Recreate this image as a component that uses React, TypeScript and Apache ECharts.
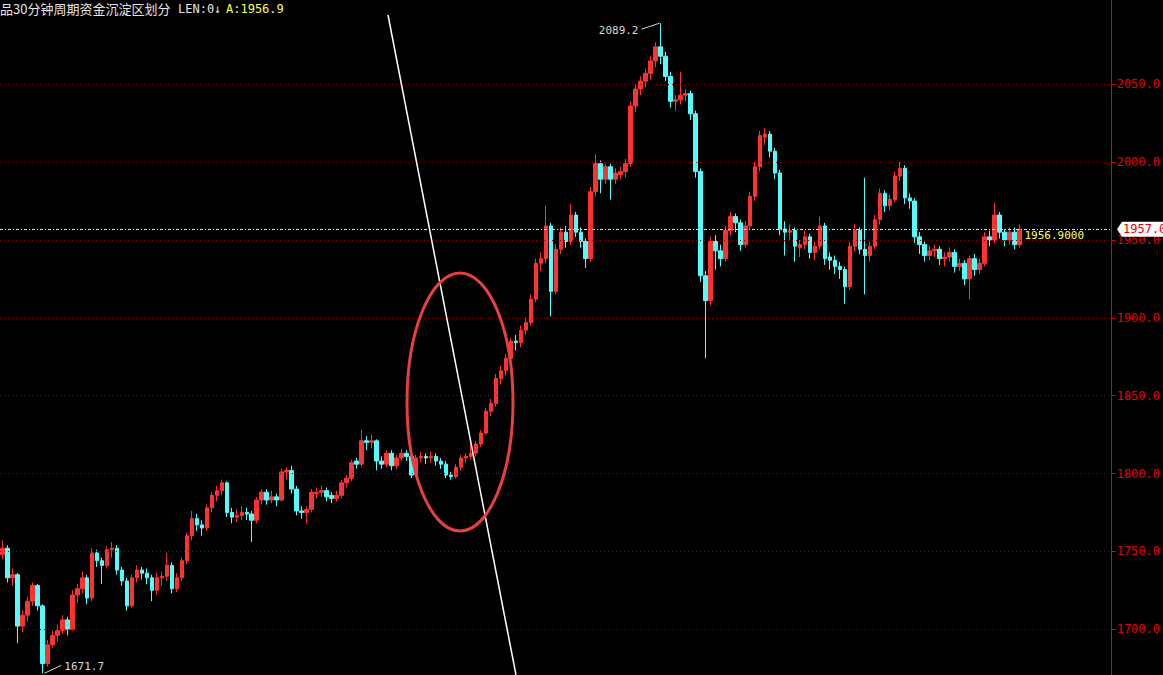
import React, { useEffect, useRef } from "react";
import * as echarts from "echarts";

// ---- data ----
const TOTAL_SLOTS = 223;
const categories: string[] = Array.from({ length: TOTAL_SLOTS }, (_, i) => `K${i + 1}`);

// [open, close, low, high]
const ohlc: number[][] = [
  [1748,1752,1745,1757],[1752,1733,1730,1754],[1733,1735,1728,1739],[1735,1702,1691,1736],
  [1702,1709,1698,1712],[1709,1718,1705,1721],[1718,1728,1715,1730],[1728,1715,1712,1729],
  [1715,1678,1671.7,1716],[1678,1690,1676,1693],[1690,1696,1688,1699],[1696,1699,1692,1703],
  [1699,1706,1697,1709],[1706,1700,1696,1708],[1700,1722,1699,1725],[1722,1726,1717,1729],
  [1726,1733,1723,1737],[1733,1720,1716,1735],[1720,1749,1718,1752],[1749,1744,1740,1751],
  [1744,1741,1729,1746],[1741,1751,1739,1753],[1751,1752,1746,1756],[1752,1738,1735,1754],
  [1738,1731,1728,1740],[1731,1715,1712,1733],[1715,1733,1714,1735],[1733,1738,1730,1741],
  [1738,1736,1732,1740],[1736,1733,1729,1739],[1733,1725,1718,1735],[1725,1733,1722,1736],
  [1733,1734,1728,1737],[1734,1741,1731,1749],[1741,1726,1723,1743],[1726,1733,1724,1736],
  [1733,1744,1731,1746],[1744,1760,1742,1762],[1760,1771,1757,1776],[1771,1767,1763,1774],
  [1767,1765,1760,1770],[1765,1778,1763,1780],[1778,1786,1775,1788],[1786,1789,1782,1792],
  [1789,1794,1786,1796],[1794,1775,1772,1795],[1775,1772,1768,1778],[1772,1773,1769,1777],
  [1773,1775,1770,1779],[1775,1774,1770,1778],[1774,1770,1756,1776],[1770,1783,1768,1785],
  [1783,1788,1780,1790],[1788,1783,1780,1790],[1783,1785,1781,1789],[1785,1783,1779,1787],
  [1783,1801,1782,1803],[1801,1802,1796,1804],[1802,1790,1787,1805],[1790,1776,1773,1792],
  [1776,1775,1771,1779],[1775,1777,1768,1779],[1777,1788,1775,1790],[1787,1788,1784,1791],
  [1788,1789,1785,1792],[1789,1785,1782,1791],[1786,1784,1781,1788],[1784,1786,1782,1789],
  [1786,1794,1784,1796],[1794,1797,1791,1799],[1797,1807,1795,1809],[1808,1806,1803,1810],
  [1806,1821,1804,1828],[1821,1820,1815,1824],[1820,1821,1816,1825],[1821,1808,1802,1822],
  [1808,1806,1803,1811],[1806,1813,1804,1815],[1813,1805,1802,1815],[1805,1810,1803,1812],
  [1810,1813,1808,1816],[1813,1811,1808,1815],[1811,1799,1797,1812],[1799,1810,1798,1812],
  [1810,1811,1807,1814],[1811,1810,1806,1813],[1810,1811,1807,1814],[1811,1808,1805,1813],
  [1808,1806,1803,1810],[1806,1799,1797,1808],[1799,1798,1796,1801],[1798,1804,1797,1806],
  [1804,1810,1802,1812],[1810,1811,1807,1813],[1811,1813,1809,1820],[1813,1819,1811,1821],
  [1819,1826,1817,1828],[1826,1840,1825,1842],[1840,1845,1837,1848],[1845,1861,1843,1864],
  [1861,1866,1857,1869],[1866,1874,1863,1877],[1874,1885,1871,1887],[1885,1884,1879,1889],
  [1884,1892,1881,1895],[1892,1897,1889,1900],[1897,1912,1895,1915],[1912,1935,1910,1938],
  [1935,1938,1930,1942],[1938,1959,1935,1972],[1959,1917,1901,1961],[1917,1944,1915,1947],
  [1944,1955,1941,1958],[1955,1949,1945,1959],[1949,1966,1947,1973],[1966,1955,1952,1968],
  [1955,1949,1945,1958],[1949,1938,1932,1951],[1938,1981,1936,1984],[1981,1999,1978,2005],
  [1999,1989,1980,2001],[1989,1997,1986,1999],[1997,1989,1976,1999],[1989,1993,1986,1996],
  [1992,1994,1989,1997],[1994,1999,1990,2002],[1999,2036,1997,2039],[2036,2047,2032,2050],
  [2047,2052,2043,2055],[2052,2057,2048,2060],[2057,2065,2053,2068],[2065,2074,2061,2077],
  [2074,2068,2063,2089.2],[2068,2055,2052,2071],[2055,2039,2035,2058],[2039,2040,2033,2043],
  [2040,2043,2037,2058],[2043,2044,2039,2047],[2044,2031,2027,2046],[2031,1994,1990,2033],
  [1994,1927,1923,1996],[1927,1911,1874,1930],[1911,1949,1908,1952],[1949,1943,1931,1953],
  [1943,1938,1933,1947],[1938,1956,1936,1959],[1956,1965,1953,1968],[1965,1961,1955,1967],
  [1961,1947,1943,1963],[1947,1959,1945,1962],[1959,1978,1957,1981],[1978,1997,1975,2000],
  [1997,2017,1994,2020],[2016,2018,2011,2022],[2018,2007,2003,2020],[2007,1993,1989,2009],
  [1993,1957,1953,1995],[1957,1955,1940,1962],[1955,1956,1950,1960],[1956,1946,1936,1958],
  [1945,1947,1939,1950],[1947,1952,1944,1956],[1952,1942,1938,1954],[1942,1946,1937,1949],
  [1946,1959,1944,1965],[1959,1938,1934,1961],[1939,1937,1931,1942],[1937,1933,1928,1940],
  [1933,1931,1925,1936],[1931,1920,1909,1933],[1920,1946,1918,1949],[1946,1956,1943,1960],
  [1956,1944,1941,1958],[1944,1940,1915,1990],[1940,1946,1936,1949],[1946,1963,1944,1966],
  [1963,1980,1960,1983],[1980,1972,1968,1982],[1972,1976,1969,1979],[1976,1991,1974,1994],
  [1991,1996,1988,2000],[1996,1977,1973,1998],[1977,1975,1970,1980],[1975,1952,1948,1977],
  [1952,1947,1941,1955],[1947,1940,1936,1949],[1940,1943,1937,1946],[1943,1944,1939,1947],
  [1944,1938,1934,1946],[1938,1939,1933,1942],[1939,1942,1936,1945],[1942,1933,1929,1944],
  [1933,1935,1930,1938],[1935,1925,1921,1937],[1925,1938,1912,1940],[1938,1931,1927,1941],
  [1931,1935,1928,1938],[1935,1952,1933,1955],[1952,1950,1946,1956],[1950,1966,1948,1974],
  [1966,1955,1951,1968],[1955,1950,1946,1957],[1950,1955,1947,1958],[1955,1947,1944,1958],
  [1947,1956.9,1945,1960],
];

const yTicks: number[] = [1700, 1750, 1800, 1850, 1900, 1950, 2000, 2050];
const Y_MIN = 1670.6;
const Y_MAX = 2104.1;
const lastPrice = 1956.9;
const titleMain = "品30分钟周期资金沉淀区划分";
const titleLen = "LEN:0";
const titleArrow = "↓";
const titleA = "A:1956.9";

const RED = "#e80000";
const UP = "#ff3232";
const DOWN = "#54fcfc";
const MONO = "DejaVu Sans Mono";

export default function App() {
  const ref = useRef<HTMLDivElement>(null);

  useEffect(() => {
    if (!ref.current) return;
    const chart = echarts.init(ref.current, null, { renderer: "svg" });

    chart.setOption({
      animation: false,
      backgroundColor: "#000000",
      grid: { left: 0, right: 47, top: 0, bottom: 0, containLabel: false },
      xAxis: {
        type: "category",
        data: categories,
        boundaryGap: true,
        axisLine: { show: false },
        axisTick: { show: false },
        axisLabel: { show: false },
        splitLine: { show: false },
      },
      yAxis: {
        type: "value",
        position: "right",
        min: Y_MIN,
        max: Y_MAX,
        scale: true,
        axisLine: { show: true, lineStyle: { color: RED, width: 1 } },
        axisTick: { show: true, length: 4, inside: false, lineStyle: { color: RED }, customValues: yTicks },
        axisLabel: {
          show: true,
          color: RED,
          fontFamily: MONO,
          fontSize: 12,
          margin: 5,
          customValues: yTicks,
          formatter: (v: number) => v.toFixed(1),
        },
        splitLine: { show: false },
      },
      series: [
        {
          type: "candlestick",
          data: ohlc,
          barWidth: 4,
          itemStyle: {
            color: UP,
            color0: DOWN,
            borderColor: UP,
            borderColor0: DOWN,
            borderWidth: 1,
          },
          markLine: {
            silent: true,
            symbol: ["none", "none"],
            label: { show: false },
            lineStyle: { color: "#8a0000", type: [1, 3], width: 1 },
            data: [
              ...yTicks.map((v) => ({ yAxis: v })),
              { yAxis: lastPrice, lineStyle: { color: "#ffff50", type: [3, 2, 1, 2], width: 1 } },
            ],
          },
        },
      ],
    });

    // positions derived from the data through the chart's own scales
    let hiIdx = 0;
    let loIdx = 0;
    ohlc.forEach((d, i) => {
      if (d[3] > ohlc[hiIdx][3]) hiIdx = i;
      if (d[2] < ohlc[loIdx][2]) loIdx = i;
    });
    const hiVal = ohlc[hiIdx][3];
    const loVal = ohlc[loIdx][2];
    const hi = chart.convertToPixel({ xAxisIndex: 0, yAxisIndex: 0 }, [hiIdx, hiVal]) as number[];
    const lo = chart.convertToPixel({ xAxisIndex: 0, yAxisIndex: 0 }, [loIdx, loVal]) as number[];
    const last = chart.convertToPixel({ xAxisIndex: 0, yAxisIndex: 0 }, [ohlc.length - 1, lastPrice]) as number[];
    const axisX = 1163 - 47;

    chart.setOption({
      graphic: [
        // title
        { type: "text", x: 0, y: 8.5, style: { text: titleMain, fill: "#e6e6e6", font: '13px "Noto Sans CJK SC"', verticalAlign: "middle" }, z: 100 },
        { type: "text", x: 178, y: 8.5, style: { text: titleLen, fill: "#e6e6e6", font: `12px "${MONO}"`, verticalAlign: "middle" }, z: 100 },
        { type: "text", x: 214, y: 8.5, style: { text: titleArrow, fill: "#e6e6e6", font: `12px "${MONO}"`, verticalAlign: "middle" }, z: 100 },
        { type: "text", x: 226, y: 8.5, style: { text: titleA, fill: "#ffff55", font: `12px "${MONO}"`, verticalAlign: "middle" }, z: 100 },
        // high annotation
        { type: "line", shape: { x1: hi[0] - 1, y1: hi[1], x2: hi[0] - 19, y2: hi[1] + 6 }, style: { stroke: "#d8d8d8", lineWidth: 1 }, z: 100 },
        { type: "text", x: hi[0] - 22, y: hi[1] + 7, style: { text: hiVal.toFixed(1), fill: "#d8d8d8", font: `11px "${MONO}"`, align: "right", verticalAlign: "middle" }, z: 100 },
        // low annotation
        { type: "line", shape: { x1: lo[0] + 2, y1: lo[1], x2: lo[0] + 19, y2: lo[1] - 8 }, style: { stroke: "#d8d8d8", lineWidth: 1 }, z: 100 },
        { type: "text", x: lo[0] + 22, y: lo[1] - 7, style: { text: loVal.toFixed(1), fill: "#d8d8d8", font: `11px "${MONO}"`, align: "left", verticalAlign: "middle" }, z: 100 },
        // last price label
        { type: "text", x: last[0] + 5, y: last[1] + 6, style: { text: lastPrice.toFixed(4), fill: "#ffff55", font: `11px "${MONO}"`, align: "left", verticalAlign: "middle" }, z: 100 },
        // price tag on axis
        {
          type: "polygon",
          shape: { points: [[axisX + 1, last[1]], [axisX + 6, last[1] - 7.5], [1163, last[1] - 7.5], [1163, last[1] + 7.5], [axisX + 6, last[1] + 7.5]] },
          style: { fill: "#ffffff" },
          z: 110,
        },
        { type: "text", x: axisX + 7, y: last[1], style: { text: Math.round(lastPrice).toFixed(1), fill: RED, font: `12px "${MONO}"`, verticalAlign: "middle" }, z: 111 },
        // drawn trend line and ellipse
        { type: "line", shape: { x1: 388, y1: 15, x2: 516, y2: 675 }, style: { stroke: "#ffffff", lineWidth: 1.5 }, z: 90 },
        { type: "ellipse", shape: { cx: 460, cy: 402, rx: 53, ry: 129 }, style: { fill: "transparent", stroke: "#e8403f", lineWidth: 3 }, z: 90 },
      ],
    });

    return () => chart.dispose();
  }, []);

  return (
    <div
      ref={ref}
      style={{ position: "fixed", left: 0, top: 0, width: 1163, height: 675, background: "#000" }}
    />
  );
}
